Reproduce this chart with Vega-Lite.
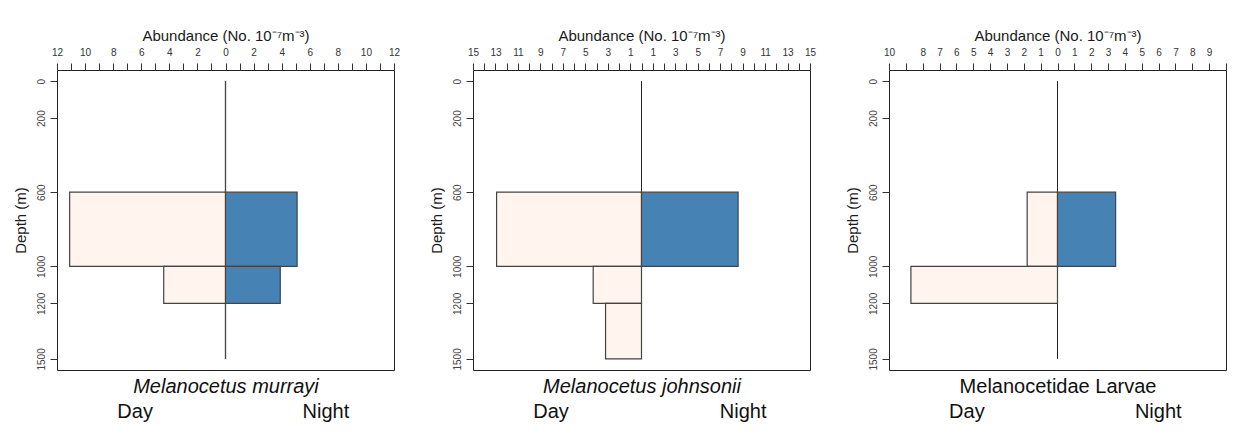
{
  "$schema": "https://vega.github.io/schema/vega-lite/v6.json",
  "padding": {"left": 12, "top": 27, "right": 5, "bottom": 5},
  "background": "white",
  "bounds": "flush",
  "spacing": 79,
  "config": {
    "font": "Liberation Sans",
    "view": {"stroke": "#222", "strokeWidth": 1},
    "axis": {
      "grid": false,
      "domain": false,
      "labelFont": "Liberation Sans",
      "titleFont": "Liberation Sans",
      "tickColor": "#333",
      "tickSize": 7,
      "labelColor": "#333",
      "labelFontSize": 10,
      "titleFontWeight": "normal",
      "titleFontSize": 15,
      "titleColor": "#1a1a1a",
      "labelOverlap": false,
      "labelFlush": false,
      "labelBound": false
    }
  },
  "datasets": {
    "bars": [
      {"species": "Melanocetus murrayi", "period": "Day", "depth_top": 600, "depth_bottom": 1000, "abundance": -11.1},
      {"species": "Melanocetus murrayi", "period": "Day", "depth_top": 1000, "depth_bottom": 1200, "abundance": -4.4},
      {"species": "Melanocetus murrayi", "period": "Night", "depth_top": 600, "depth_bottom": 1000, "abundance": 5.1},
      {"species": "Melanocetus murrayi", "period": "Night", "depth_top": 1000, "depth_bottom": 1200, "abundance": 3.9},
      {"species": "Melanocetus johnsonii", "period": "Day", "depth_top": 600, "depth_bottom": 1000, "abundance": -12.9},
      {"species": "Melanocetus johnsonii", "period": "Day", "depth_top": 1000, "depth_bottom": 1200, "abundance": -4.3},
      {"species": "Melanocetus johnsonii", "period": "Day", "depth_top": 1200, "depth_bottom": 1500, "abundance": -3.2},
      {"species": "Melanocetus johnsonii", "period": "Night", "depth_top": 600, "depth_bottom": 1000, "abundance": 8.6},
      {"species": "Melanocetidae Larvae", "period": "Day", "depth_top": 600, "depth_bottom": 1000, "abundance": -1.8},
      {"species": "Melanocetidae Larvae", "period": "Day", "depth_top": 1000, "depth_bottom": 1200, "abundance": -8.7},
      {"species": "Melanocetidae Larvae", "period": "Night", "depth_top": 600, "depth_bottom": 1000, "abundance": 3.45}
    ]
  },
  "hconcat": [
    {
      "width": 337,
      "height": 300,
      "resolve": {"axis": {"x": "independent"}},
      "layer": [
        {
          "data": {"values": [{}]},
          "mark": {"type": "rule", "color": "#444", "strokeWidth": 1.3},
          "encoding": {
            "x": {
              "datum": 0, "type": "quantitative",
              "scale": {"domain": [-12, 12], "nice": false, "zero": false},
              "axis": {
                "orient": "top",
                "values": [-12, -11, -10, -9, -8, -7, -6, -5, -4, -3, -2, -1, 0, 1, 2, 3, 4, 5, 6, 7, 8, 9, 10, 11, 12],
                "labelExpr": "datum.value % 2 == 0 ? format(abs(datum.value), 'd') : ''",
                "title": "Abundance (No. 10⁻⁷m⁻³)",
                "labelPadding": 6,
                "titlePadding": 4
              }
            },
            "y": {
              "datum": 0, "type": "quantitative",
              "scale": {"domain": [-60, 1560], "reverse": true, "nice": false, "zero": false},
              "axis": {"values": [0, 200, 600, 1000, 1200, 1500], "format": "d", "labelColor": "#444", "labelAngle": 270, "title": "Depth (m)", "labelPadding": 4, "titlePadding": 8}
            },
            "y2": {"datum": 1500}
          }
        },
        {
          "data": {"name": "bars"},
          "transform": [{"filter": "datum.species == 'Melanocetus murrayi'"}],
          "mark": {"type": "rect", "stroke": "#444", "strokeWidth": 1.2},
          "encoding": {
            "x": {
              "field": "abundance", "type": "quantitative",
              "axis": {
                "orient": "bottom", "values": [-6.47, 7.11],
                "labelExpr": "datum.value < 0 ? 'Day' : 'Night'",
                "ticks": false, "tickSize": 0,
                "labelFontSize": 20, "labelColor": "#111", "labelPadding": 41, "labelBaseline": "middle",
                "title": "Melanocetus murrayi", "titleFontStyle": "italic", "titleFontSize": 20,
                "titleY": 16, "titleBaseline": "middle", "titleColor": "#111"
              }
            },
            "x2": {"datum": 0},
            "y": {
              "field": "depth_top", "type": "quantitative",
              "axis": {"values": [0, 200, 600, 1000, 1200, 1500], "format": "d", "labelColor": "#444", "labelAngle": 270, "title": "Depth (m)", "labelPadding": 4, "titlePadding": 8}
            },
            "y2": {"field": "depth_bottom"},
            "color": {"field": "period", "type": "nominal", "scale": {"domain": ["Day", "Night"], "range": ["#fff5ee", "#4682b4"]}, "legend": null}
          }
        }
      ]
    },
    {
      "width": 337,
      "height": 300,
      "resolve": {"axis": {"x": "independent"}},
      "layer": [
        {
          "data": {"values": [{}]},
          "mark": {"type": "rule", "color": "#222", "strokeWidth": 1},
          "encoding": {
            "x": {
              "datum": 0, "type": "quantitative",
              "scale": {"domain": [-15, 15], "nice": false, "zero": false},
              "axis": {
                "orient": "top",
                "values": [-15, -14, -13, -12, -11, -10, -9, -8, -7, -6, -5, -4, -3, -2, -1, 0, 1, 2, 3, 4, 5, 6, 7, 8, 9, 10, 11, 12, 13, 14, 15],
                "labelExpr": "datum.value % 2 != 0 ? format(abs(datum.value), 'd') : ''",
                "title": "Abundance (No. 10⁻⁷m⁻³)",
                "labelPadding": 6,
                "titlePadding": 4
              }
            },
            "y": {
              "datum": 0, "type": "quantitative",
              "scale": {"domain": [-60, 1560], "reverse": true, "nice": false, "zero": false},
              "axis": {"values": [0, 200, 600, 1000, 1200, 1500], "format": "d", "labelColor": "#444", "labelAngle": 270, "title": "Depth (m)", "labelPadding": 4, "titlePadding": 8}
            },
            "y2": {"datum": 1500}
          }
        },
        {
          "data": {"name": "bars"},
          "transform": [{"filter": "datum.species == 'Melanocetus johnsonii'"}],
          "mark": {"type": "rect", "stroke": "#444", "strokeWidth": 1.2},
          "encoding": {
            "x": {
              "field": "abundance", "type": "quantitative",
              "axis": {
                "orient": "bottom", "values": [-8.1, 9.0],
                "labelExpr": "datum.value < 0 ? 'Day' : 'Night'",
                "ticks": false, "tickSize": 0,
                "labelFontSize": 20, "labelColor": "#111", "labelPadding": 41, "labelBaseline": "middle",
                "title": "Melanocetus johnsonii", "titleFontStyle": "italic", "titleFontSize": 20,
                "titleY": 16, "titleBaseline": "middle", "titleColor": "#111"
              }
            },
            "x2": {"datum": 0},
            "y": {
              "field": "depth_top", "type": "quantitative",
              "axis": {"values": [0, 200, 600, 1000, 1200, 1500], "format": "d", "labelColor": "#444", "labelAngle": 270, "title": "Depth (m)", "labelPadding": 4, "titlePadding": 8}
            },
            "y2": {"field": "depth_bottom"},
            "color": {"field": "period", "type": "nominal", "scale": {"domain": ["Day", "Night"], "range": ["#fff5ee", "#4682b4"]}, "legend": null}
          }
        }
      ]
    },
    {
      "width": 337,
      "height": 300,
      "resolve": {"axis": {"x": "independent"}},
      "layer": [
        {
          "data": {"values": [{}]},
          "mark": {"type": "rule", "color": "#222", "strokeWidth": 1},
          "encoding": {
            "x": {
              "datum": 0, "type": "quantitative",
              "scale": {"domain": [-10, 10], "nice": false, "zero": false},
              "axis": {
                "orient": "top",
                "values": [-10, -9, -8, -7, -6, -5, -4, -3, -2, -1, 0, 1, 2, 3, 4, 5, 6, 7, 8, 9, 10],
                "labelExpr": "(datum.value == -9 || datum.value == 10) ? '' : format(abs(datum.value), 'd')",
                "title": "Abundance (No. 10⁻⁷m⁻³)",
                "labelPadding": 6,
                "titlePadding": 4
              }
            },
            "y": {
              "datum": 0, "type": "quantitative",
              "scale": {"domain": [-60, 1560], "reverse": true, "nice": false, "zero": false},
              "axis": {"values": [0, 200, 600, 1000, 1200, 1500], "format": "d", "labelColor": "#444", "labelAngle": 270, "title": "Depth (m)", "labelPadding": 4, "titlePadding": 8}
            },
            "y2": {"datum": 1500}
          }
        },
        {
          "data": {"name": "bars"},
          "transform": [{"filter": "datum.species == 'Melanocetidae Larvae'"}],
          "mark": {"type": "rect", "stroke": "#444", "strokeWidth": 1.2},
          "encoding": {
            "x": {
              "field": "abundance", "type": "quantitative",
              "axis": {
                "orient": "bottom", "values": [-5.41, 5.95],
                "labelExpr": "datum.value < 0 ? 'Day' : 'Night'",
                "ticks": false, "tickSize": 0,
                "labelFontSize": 20, "labelColor": "#111", "labelPadding": 41, "labelBaseline": "middle",
                "title": "Melanocetidae Larvae", "titleFontSize": 20,
                "titleY": 16, "titleBaseline": "middle", "titleColor": "#111"
              }
            },
            "x2": {"datum": 0},
            "y": {
              "field": "depth_top", "type": "quantitative",
              "axis": {"values": [0, 200, 600, 1000, 1200, 1500], "format": "d", "labelColor": "#444", "labelAngle": 270, "title": "Depth (m)", "labelPadding": 4, "titlePadding": 8}
            },
            "y2": {"field": "depth_bottom"},
            "color": {"field": "period", "type": "nominal", "scale": {"domain": ["Day", "Night"], "range": ["#fff5ee", "#4682b4"]}, "legend": null}
          }
        }
      ]
    }
  ]
}
